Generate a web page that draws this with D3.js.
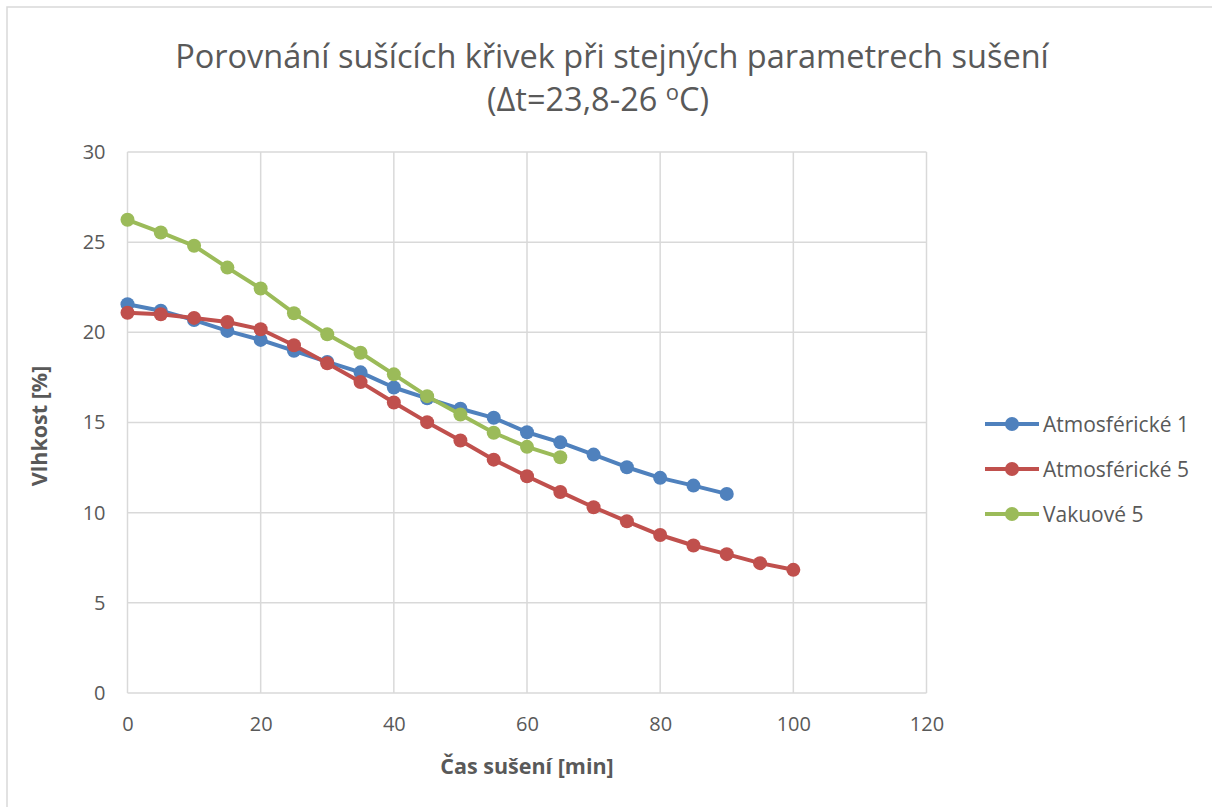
<!DOCTYPE html>
<html lang="cs">
<head>
<meta charset="UTF-8">
<title>Porovnání sušících křivek</title>
<script src="https://d3js.org/d3.v7.min.js"></script>
<style>
    body { margin: 0; background: #fff; }
    text { font-family: "Open Sans", "DejaVu Sans", sans-serif; fill: #595959; }
    .grid line { stroke: #d9d9d9; stroke-width: 1.5px; }
    .axis text { font-size: 20px; }
    .axis-title { font-size: 21.5px; font-weight: bold; }
    .legend text { font-size: 21px; }
</style>
</head>
<body>
<script>

// data
const timeA1 = [0,5,10,15,20,25,30,35,40,45,50,55,60,65,70,75,80,85,90]
const moistA1 = [21.56,21.2,20.68,20.08,19.58,18.98,18.36,17.78,16.94,16.34,15.76,15.26,14.46,13.9,13.22,12.52,11.93,11.5,11.04]

const timeA5 = [0,5,10,15,20,25,30,35,40,45,50,55,60,65,70,75,80,85,90,95,100]
const moistA5 = [21.09,21.0,20.8,20.57,20.17,19.28,18.28,17.24,16.11,15.02,14.0,12.94,12.02,11.15,10.3,9.52,8.76,8.18,7.7,7.2,6.83]

const timeV5 = [0,5,10,15,20,25,30,35,40,45,50,55,60,65]
const moistV5 = [26.24,25.54,24.8,23.59,22.43,21.06,19.89,18.87,17.67,16.46,15.44,14.43,13.65,13.07]

const seriesNames = ["Atmosférické 1", "Atmosférické 5", "Vakuové 5"]
const seriesColors = ["#4f81bd", "#c0504d", "#9bbb59"]

const xTicks = [0,20,40,60,80,100,120]
const yTicks = [0,5,10,15,20,25,30]

const series = [
    {name: seriesNames[0], color: seriesColors[0], pts: timeA1.map((t, i) => ({t: t, v: moistA1[i]}))},
    {name: seriesNames[1], color: seriesColors[1], pts: timeA5.map((t, i) => ({t: t, v: moistA5[i]}))},
    {name: seriesNames[2], color: seriesColors[2], pts: timeV5.map((t, i) => ({t: t, v: moistV5[i]}))}
]

const W = 1212, H = 807
const PLOT = {LEFT: 127.5, RIGHT: 926.5, TOP: 152, BOTTOM: 693}

const svg = d3.select("body").append("svg")
    .attr("width", W)
    .attr("height", H)

// chart frame
svg.append("rect")
    .attr("x", 7).attr("y", 7)
    .attr("width", W).attr("height", H)
    .attr("fill", "#fff")
    .attr("stroke", "#d9d9d9")
    .attr("stroke-width", 1.5)

const x = d3.scaleLinear().domain([0, 120]).range([PLOT.LEFT, PLOT.RIGHT])
const y = d3.scaleLinear().domain([0, 30]).range([PLOT.BOTTOM, PLOT.TOP])

// gridlines
const grid = svg.append("g").attr("class", "grid")
grid.selectAll(".h").data(yTicks).enter().append("line")
    .attr("x1", PLOT.LEFT).attr("x2", PLOT.RIGHT)
    .attr("y1", d => y(d)).attr("y2", d => y(d))
grid.selectAll(".v").data(xTicks).enter().append("line")
    .attr("y1", PLOT.TOP).attr("y2", PLOT.BOTTOM)
    .attr("x1", d => x(d)).attr("x2", d => x(d))

// axes (labels only, lines come from the grid)
const xAxis = svg.append("g")
    .attr("class", "axis")
    .attr("transform", `translate(0, ${PLOT.BOTTOM})`)
    .call(d3.axisBottom(x).tickValues(xTicks).tickSize(0).tickPadding(24))
xAxis.select(".domain").remove()

const yAxis = svg.append("g")
    .attr("class", "axis")
    .attr("transform", `translate(${PLOT.LEFT}, 0)`)
    .call(d3.axisLeft(y).tickValues(yTicks).tickSize(0).tickPadding(22))
yAxis.select(".domain").remove()
svg.selectAll(".axis text").attr("fill", "#595959").style("font-family", null)

// axis titles
svg.append("text")
    .attr("class", "axis-title")
    .attr("x", 527).attr("y", 774)
    .attr("text-anchor", "middle")
    .text("Čas sušení [min]")

svg.append("text")
    .attr("class", "axis-title")
    .attr("transform", "translate(47, 426) rotate(-90)")
    .attr("text-anchor", "middle")
    .text("Vlhkost [%]")

// title
const title = svg.append("text")
    .attr("text-anchor", "middle")
    .style("font-size", "32.5px")
title.append("tspan").attr("x", 612).attr("y", 68).text("Porovnání sušících křivek při stejných parametrech sušení")
const t2 = title.append("tspan").attr("x", 598).attr("y", 111)
t2.append("tspan").text("(Δt=23,8-26 ")
t2.append("tspan").attr("dy", -11).style("font-size", "22px").text("o")
t2.append("tspan").attr("dy", 11).text("C)")

// lines + markers
const line = d3.line().x(d => x(d.t)).y(d => y(d.v))

series.forEach(s => {
    const g = svg.append("g")
    g.append("path")
        .datum(s.pts)
        .attr("d", line)
        .attr("fill", "none")
        .attr("stroke", s.color)
        .attr("stroke-width", 4)
        .attr("stroke-linejoin", "round")
    g.selectAll("circle").data(s.pts).enter().append("circle")
        .attr("cx", d => x(d.t))
        .attr("cy", d => y(d.v))
        .attr("r", 7)
        .attr("fill", s.color)
})

// legend
const legend = svg.append("g").attr("class", "legend")
series.forEach((s, i) => {
    const row = legend.append("g").attr("transform", `translate(985, ${424 + i * 45})`)
    row.append("line")
        .attr("x1", 0).attr("x2", 54)
        .attr("stroke", s.color).attr("stroke-width", 4)
    row.append("circle").attr("cx", 27).attr("r", 7).attr("fill", s.color)
    row.append("text")
        .attr("x", 58).attr("y", 7.5)
        .text(s.name)
})

</script>
</body>
</html>
